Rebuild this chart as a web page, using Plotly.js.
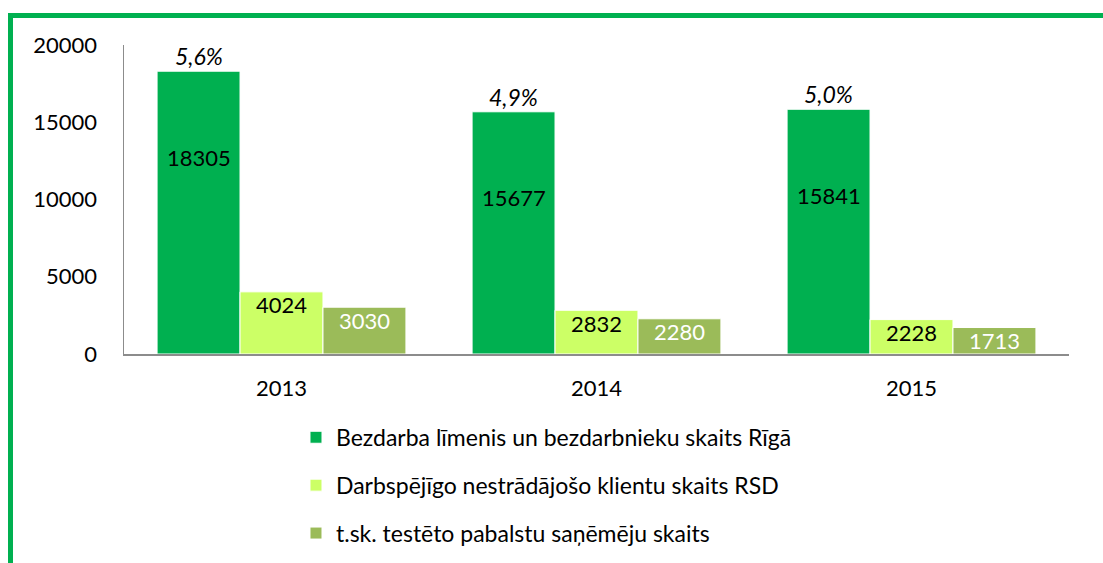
<!DOCTYPE html>
<html>
<head>
<meta charset="utf-8">
<script src="https://cdn.plot.ly/plotly-3.0.1.min.js"></script>
<style>
html,body{margin:0;padding:0;background:#fff;overflow:hidden;}
#wrap{position:relative;width:1103px;height:563px;}
#chart{position:absolute;left:0;top:0;width:1103px;height:563px;}
#frame{position:absolute;left:8px;top:13px;width:1200px;height:700px;border:5px solid #00B050;box-sizing:border-box;pointer-events:none;}
</style>
</head>
<body>
<div id="wrap"><div id="chart"></div><div id="frame"></div></div>
<script>
const years = ['2013', '2014', '2015'];
const unemployed = [18305, 15677, 15841];
const unemploymentRate = ['5,6%', '4,9%', '5,0%'];
const rsdClients = [4024, 2832, 2228];
const benefitRecipients = [3030, 2280, 1713];
const seriesNames = [
  'Bezdarba līmenis un bezdarbnieku skaits Rīgā',
  'Darbspējīgo nestrādājošo klientu skaits RSD',
  't.sk. testēto pabalstu saņēmēju skaits'
];
const colors = ['#00B050', '#CCFF66', '#9BBB59'];
const labelColors = ['#000000', '#000000', '#FFFFFF'];
const FONT = 'Lato, "Open Sans", sans-serif';

const seriesData = [unemployed, rsdClients, benefitRecipients];
const traces = seriesData.map((vals, i) => ({
  type: 'bar',
  x: years,
  y: vals,
  name: seriesNames[i],
  legendgroup: 'g' + i,
  marker: {color: colors[i], line: {color: '#FFFFFF', width: 1}},
  hoverinfo: 'none'
}));

const annotations = [];
const nS = seriesData.length;
const groupWidth = 0.79;
const barW = groupWidth / nS;
seriesData.forEach((vals, s) => {
  vals.forEach((v, c) => {
    const xpos = c - groupWidth / 2 + barW * (s + 0.5);
    annotations.push({
      x: xpos, y: v, xref: 'x', yref: 'y',
      text: String(v), showarrow: false,
      yanchor: 'middle', yshift: s === 0 ? -86 : -13,
      font: {family: FONT, size: 22, color: labelColors[s]}
    });
    if (s === 0) {
      annotations.push({
        x: xpos, y: v, xref: 'x', yref: 'y',
        text: '<i>' + unemploymentRate[c] + '</i>', showarrow: false,
        yanchor: 'bottom', yshift: -1,
        font: {family: FONT, size: 23, color: '#000000'}
      });
    }
  });
});

const layout = {
  width: 1103, height: 563,
  margin: {l: 124, r: 34, t: 45, b: 209, autoexpand: false},
  paper_bgcolor: '#FFFFFF', plot_bgcolor: '#FFFFFF',
  barmode: 'group', bargap: 0.21, bargroupgap: 0,
  font: {family: FONT, size: 22, color: '#000000'},
  showlegend: true,
  legend: {
    orientation: 'v', x: 0.182, xanchor: 'left', y: -0.20, yanchor: 'top',
    traceorder: 'grouped', tracegroupgap: 15,
    font: {family: FONT, size: 23, color: '#000000'}
  },
  xaxis: {
    type: 'category', showline: true, linecolor: '#8C8C8C', linewidth: 1.5,
    ticks: '', showgrid: false, zeroline: false,
    tickfont: {family: FONT, size: 22}, ticklabelstandoff: 14
  },
  yaxis: {
    range: [0, 20000], tickvals: [0, 5000, 10000, 15000, 20000],
    ticktext: ['0', '5000', '10000', '15000', '20000'],
    showline: true, linecolor: '#8C8C8C', linewidth: 1.5,
    ticks: '', showgrid: false, zeroline: false,
    tickfont: {family: FONT, size: 22}, ticklabelstandoff: 21
  },
  annotations: annotations
};

Plotly.newPlot('chart', traces, layout, {displayModeBar: false, staticPlot: true});
</script>
</body>
</html>
